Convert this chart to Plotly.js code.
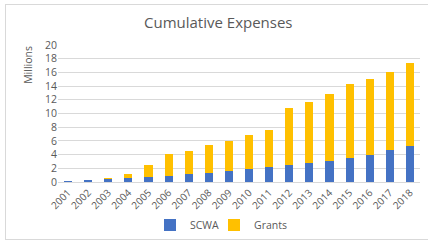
<!DOCTYPE html>
<html>
<head>
<meta charset="utf-8">
<script src="https://cdn.plot.ly/plotly-3.0.1.min.js"></script>
<style>
html,body{margin:0;padding:0;background:#fff;overflow:hidden;}
#chart{position:absolute;left:0;top:0;width:428px;height:242px;}
#frame{position:absolute;left:5px;top:4px;width:430px;height:234px;border:1px solid #d9d9d9;pointer-events:none;}
</style>
</head>
<body>
<div id="chart"></div>
<div id="frame"></div>
<script>
const years = ['2001','2002','2003','2004','2005','2006','2007','2008','2009','2010','2011','2012','2013','2014','2015','2016','2017','2018'];
const scwa = [0.15,0.25,0.45,0.6,0.75,0.9,1.1,1.3,1.55,1.85,2.2,2.45,2.75,3.1,3.5,3.95,4.6,5.25];
const totals = [0.17,0.35,0.6,1.1,2.55,4.05,4.55,5.35,5.95,6.8,7.6,10.85,11.65,12.8,14.25,15.0,16.05,17.4];
const grants = totals.map((t,i)=>+(t-scwa[i]).toFixed(2));

const font = {family:'"Open Sans", "Liberation Sans", sans-serif', color:'#595959'};

const data = [
  {type:'bar', name:'SCWA', x:years, y:scwa, marker:{color:'#4472C4'}, legend:'legend'},
  {type:'bar', name:'Grants', x:years, y:grants, marker:{color:'#FFC000'}, legend:'legend2'}
];

const legBase = {orientation:'h', xref:'container', yref:'container', y:0.07, yanchor:'middle', xanchor:'left', font:Object.assign({size:10.5}, font), itemwidth:30, bgcolor:'rgba(0,0,0,0)'};

const layout = {
  width:428, height:242,
  margin:{l:58, r:8, t:45, b:60},
  paper_bgcolor:'#fff', plot_bgcolor:'#fff',
  barmode:'stack', bargap:0.6,
  font:Object.assign({size:10}, font),
  title:{text:'Cumulative Expenses', font:Object.assign({size:15}, font), x:0.51, xref:'container', y:0.905, yref:'container', yanchor:'middle'},
  xaxis:{type:'category', tickangle:-45, tickfont:Object.assign({size:10}, font), showgrid:false, showline:true, linecolor:'#d9d9d9', ticks:'', automargin:false, fixedrange:true},
  yaxis:{range:[0,20], dtick:2, tickfont:Object.assign({size:10.5}, font), gridcolor:'#d9d9d9', gridwidth:1, zeroline:false, showline:false, ticks:'', automargin:false, fixedrange:true},
  legend:Object.assign({}, legBase, {x:150/428}),
  legend2:Object.assign({}, legBase, {x:214/428}),
  annotations:[{text:'Millions', xref:'paper', yref:'paper', x:-0.083, y:0.855, textangle:-90, showarrow:false, font:Object.assign({size:10.5}, font), xanchor:'center', yanchor:'middle'}],
  showlegend:true
};

Plotly.newPlot('chart', data, layout, {staticPlot:true, displayModeBar:false});
</script>
</body>
</html>
